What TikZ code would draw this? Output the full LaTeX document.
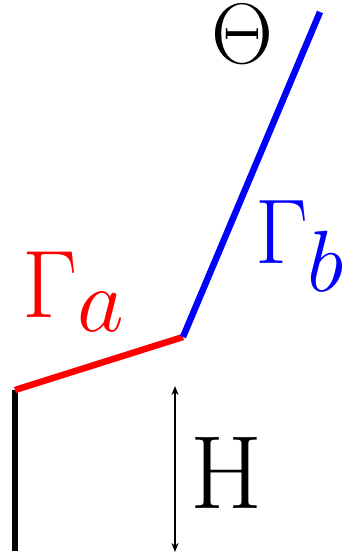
\RequirePackage{fix-cm}
\documentclass[tikz,border=0pt]{standalone}
\usepackage{graphicx}
\usetikzlibrary{arrows.meta}
\begin{document}
\begin{tikzpicture}[
  x=1pt, y=-1pt,
  seg/.style={line width=6.5pt, line cap=butt},
  lbl/.style={inner sep=0pt, outer sep=0pt}
]
  \useasboundingbox (0,0) rectangle (352,554);
  % wall and the two bent pieces
  \coordinate (foot)  at (15,551);
  \coordinate (knee)  at (15,390);
  \coordinate (joint) at (183,337);
  \coordinate (tip)   at (320,12);
  \draw[seg, black] (foot) -- (knee);
  \draw[seg, red, line join=round] (knee) -- (joint);
  \draw[seg, blue] (joint) -- (tip);
  % height marker
  \coordinate (hbot) at (175,552);
  \coordinate (htop) at (175,386);
  \draw[line width=1.6pt, {Stealth[length=9pt,width=7pt]}-{Stealth[length=9pt,width=7pt]}] (hbot) -- (htop);
  % labels
  \node[lbl, anchor=base west, text=red] (ga) at (22,317)
    {\fontsize{96}{96}\selectfont$\Gamma_{\scalebox{1.35}{$\scriptstyle a$}}$};
  \node[lbl, anchor=base west, text=blue] (gb) at (255,263)
    {\fontsize{92}{92}\selectfont$\Gamma_{\raisebox{-8pt}{\scalebox{1.35}{$\scriptstyle b$}}}$};
  \node[lbl, text=black] (th) at (242,34) {\fontsize{86}{86}\selectfont$\Theta$};
  \node[lbl, anchor=base, text=black] (h) at (227,508) {\fontsize{104}{104}\selectfont H};
\end{tikzpicture}
\end{document}
